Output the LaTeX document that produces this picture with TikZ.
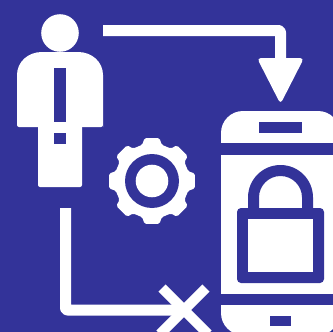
\documentclass[tikz,border=0pt]{standalone}
\definecolor{bg}{HTML}{333399}
\tikzset{
  ink/.style={fill=white,draw=none},
  hole/.style={fill=bg,draw=none},
  wire/.style={draw=white,line width=11pt,line join=round},
  crossbar/.style={draw=white,line width=10pt}
}
\begin{document}
\begin{tikzpicture}[x=1pt,y=-1pt]
\useasboundingbox (0,0) rectangle (333,332);
\clip (0,0) rectangle (333,332);
\fill[bg] (0,0) rectangle (333,332);
% person
\fill[ink] (60,33) circle (18.8);
\fill[ink,rounded corners=2pt] (38,120) -- (38,187) -- (82,187) -- (82,120) -- cycle;
\fill[ink] (17,125) [rounded corners=2pt] -- (17,127) -- (103,127) -- (103,125) [sharp corners] -- (103,75)
  .. controls (103,62) and (92,52) .. (78,52) -- (42,52) .. controls (28,52) and (17,62) .. (17,75) -- cycle;
\fill[hole] (54,68) rectangle (66,122);
\fill[hole] (54,133) rectangle (66,144);
% top connector and arrowhead
\coordinate (a) at (103,30.5);
\coordinate (b) at (280.5,30.5);
\coordinate (c) at (280.5,62);
\draw[wire,rounded corners=2pt] (a) -- (b) -- (c);
\fill[ink,rounded corners=4pt] (257,58) -- (304,58) -- (280.5,104) -- cycle;
% gear
\begin{scope}[shift={(152,181)}]
\fill[ink,rounded corners=1.6pt]
  (-15:37.5) -- (-10:43.5) -- (10:43.5) -- (15:37.5) --
  (30:37.5) -- (35:43.5) -- (55:43.5) -- (60:37.5) --
  (75:37.5) -- (80:43.5) -- (100:43.5) -- (105:37.5) --
  (120:37.5) -- (125:43.5) -- (145:43.5) -- (150:37.5) --
  (165:37.5) -- (170:43.5) -- (190:43.5) -- (195:37.5) --
  (210:37.5) -- (215:43.5) -- (235:43.5) -- (240:37.5) --
  (255:37.5) -- (260:43.5) -- (280:43.5) -- (285:37.5) --
  (300:37.5) -- (305:43.5) -- (325:43.5) -- (330:37.5) -- cycle;
\fill[hole] (0,0) circle (27);
\fill[ink] (0,0) circle (16.3);
\end{scope}
% lower connector and cross
\coordinate (d) at (65.5,208);
\coordinate (e) at (65.5,310);
\coordinate (f) at (184,310);
\draw[wire,rounded corners=2pt] (d) -- (e) -- (f);
\draw[crossbar] (162,288) -- (208,334);
\draw[crossbar] (206,288) -- (160,334);
% phone
\fill[ink,rounded corners=22pt] (221,165) -- (221,111) -- (340,111) -- (340,165) [sharp corners] -- cycle;
\fill[hole] (215,143) rectangle (345,155);
\fill[ink] (221,155) rectangle (340,294);
\fill[hole] (215,294) rectangle (345,305);
\fill[ink,rounded corners=22pt] (221,285) -- (221,335) -- (340,335) -- (340,285) [sharp corners] -- cycle;
\fill[hole] (215,294) rectangle (345,305);
\fill[hole] (259,122) rectangle (302,133);
\fill[hole] (270,316) rectangle (291,326);
% padlock
\fill[hole,rounded corners=4pt] (237,208) rectangle (324,283);
\fill[ink] (248,219) rectangle (313,272);
\fill[hole] (248,208) -- (248,197.5) arc[start angle=180,end angle=360,radius=32.5] -- (313,208) -- (302,208) -- (302,197.5) arc[start angle=360,end angle=180,radius=21.5] -- (259,208) -- cycle;
\end{tikzpicture}
\end{document}
